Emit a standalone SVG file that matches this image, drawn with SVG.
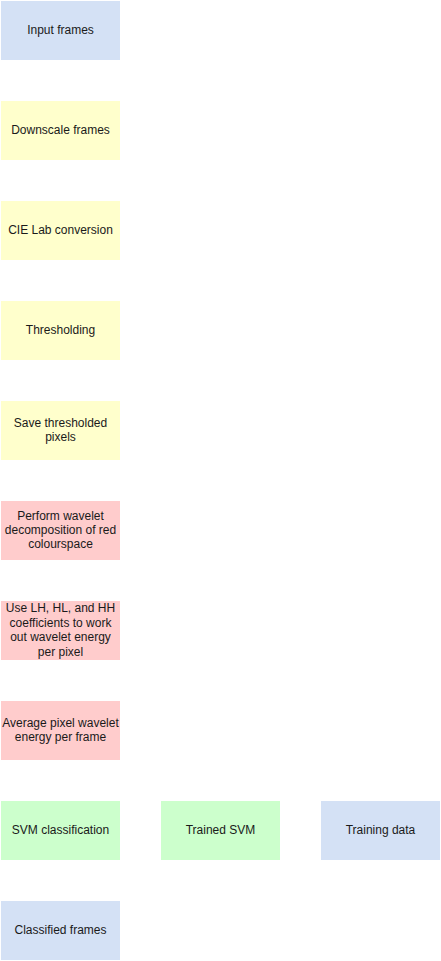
<svg xmlns="http://www.w3.org/2000/svg" width="441" height="961" viewBox="0 0 441 961">
<style>
rect{stroke:none}
.b{fill:#D4E1F5}.y{fill:#FFFFCC}.r{fill:#FFCCCC}.g{fill:#CCFFCC}
text{font-family:"Liberation Sans",Arial,sans-serif;font-size:12px;fill:#1A1A1A;text-anchor:middle}
</style>
<rect width="441" height="961" fill="#FFFFFF"/>
<g id="connectors"></g>
<g id="n1"><rect class="b" x="1" y="1" width="119" height="59"/><text x="60.5" y="33.5">Input frames</text></g>
<g id="n2"><rect class="y" x="1" y="101" width="119" height="59"/><text x="60.5" y="133.5">Downscale frames</text></g>
<g id="n3"><rect class="y" x="1" y="201" width="119" height="59"/><text x="60.5" y="233.5">CIE Lab conversion</text></g>
<g id="n4"><rect class="y" x="1" y="301" width="119" height="59"/><text x="60.5" y="333.5">Thresholding</text></g>
<g id="n5"><rect class="y" x="1" y="401" width="119" height="59"/><text x="60.5" y="426.8">Save thresholded</text><text x="60.5" y="441.2">pixels</text></g>
<g id="n6"><rect class="r" x="1" y="501" width="119" height="59"/><text x="60.5" y="519.6">Perform wavelet</text><text x="60.5" y="534">decomposition of red</text><text x="60.5" y="548.4">colourspace</text></g>
<g id="n7"><rect class="r" x="1" y="601" width="119" height="59"/><text x="60.5" y="612.4">Use LH, HL, and HH</text><text x="60.5" y="626.8">coefficients to work</text><text x="60.5" y="641.2">out wavelet energy</text><text x="60.5" y="655.6">per pixel</text></g>
<g id="n8"><rect class="r" x="1" y="701" width="119" height="59"/><text x="60.5" y="726.8">Average pixel wavelet</text><text x="60.5" y="741.2">energy per frame</text></g>
<g id="n9"><rect class="g" x="1" y="801" width="119" height="59"/><text x="60.5" y="833.5">SVM classification</text></g>
<g id="n10"><rect class="g" x="161" y="801" width="119" height="59"/><text x="220.5" y="833.5">Trained SVM</text></g>
<g id="n11"><rect class="b" x="321" y="801" width="119" height="59"/><text x="380.5" y="833.5">Training data</text></g>
<g id="n12"><rect class="b" x="1" y="901" width="119" height="59"/><text x="60.5" y="933.5">Classified frames</text></g>
</svg>
